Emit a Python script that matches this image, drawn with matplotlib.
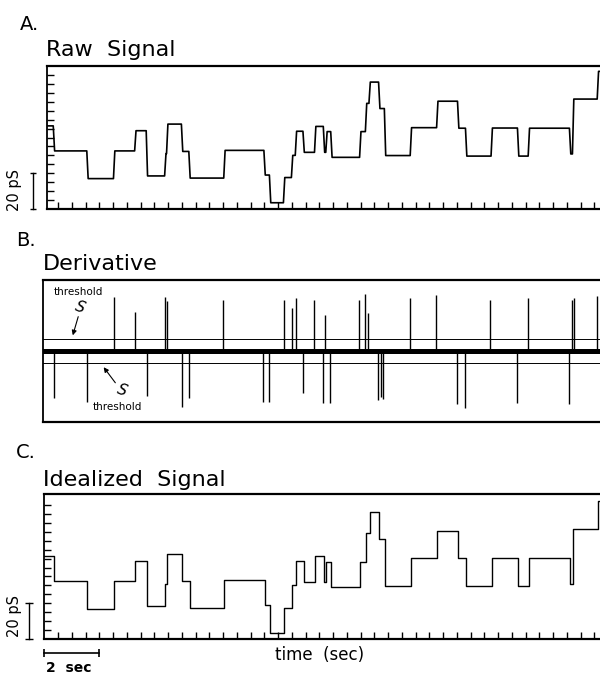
"""
Single-channel recording: raw trace, its derivative and the idealized steps.
"""

import numpy as np
import matplotlib
matplotlib.use("Agg")
from matplotlib import pyplot as plt
from matplotlib import transforms as mtransforms

# step levels of the channel record (pS) and the times (sec) they start
step_times = [0.0, 0.35, 1.57, 2.54, 3.31, 3.73, 4.40, 4.47, 5.01, 5.28, 6.55,
              8.01, 8.21, 8.72, 9.01, 9.15, 9.43, 9.85, 10.17, 10.26, 10.44,
              11.49, 11.70, 11.83, 12.18, 12.39, 13.33, 14.29, 15.05, 15.34,
              16.27, 17.23, 17.62, 19.12, 19.23, 20.13]
step_levels = [46.5, 32.5, 17.0, 32.5, 43.8, 18.5, 31.0, 47.5, 32.2, 17.3, 32.8,
               19.0, 3.5, 17.6, 30.0, 43.5, 31.7, 46.2, 31.7, 43.3, 28.9,
               43.3, 59.1, 71.0, 56.2, 29.9, 45.5, 60.3, 45.2, 29.6,
               45.3, 29.6, 45.2, 30.8, 61.5, 77.0]

# derivative spikes (sec, arbitrary units)
up_spike_times = [2.55, 3.31, 4.40, 4.45, 6.51, 8.72, 9.01, 9.16, 9.82, 10.22,
                  11.45, 11.65, 11.77, 13.29, 14.24, 16.22, 17.58, 19.20, 19.26, 20.10]
up_spike_heights = [54, 39, 54, 50, 51, 51, 43, 53, 51, 36,
                    51, 57, 38, 53, 56, 51, 53, 51, 53, 55]
down_spike_times = [0.35, 1.56, 3.72, 4.99, 5.27, 7.96, 8.16, 9.41, 10.13, 10.40,
                    12.13, 12.24, 12.33, 15.01, 15.29, 17.18, 19.07]
down_spike_heights = [-47, -51, -45, -56, -47, -51, -51, -42, -52, -52,
                      -49, -46, -48, -53, -57, -52, -53]
threshold = 12

W, H = 600, 674
PX_PER_SEC = 27.5
T0_PX = 44.3
RIGHT_PX = 606

plt.rcParams["font.family"] = ["DejaVu Sans"]
fig = plt.figure(figsize=(W / 100, H / 100), dpi=100)


def add_panel(left, top, bottom):
    ax = fig.add_axes([left / W, 1 - bottom / H, (RIGHT_PX - left) / W, (bottom - top) / H])
    ax.set_xlim((left - T0_PX) / PX_PER_SEC, (RIGHT_PX - T0_PX) / PX_PER_SEC)
    for side in ["top", "bottom"]:
        ax.spines[side].set_linewidth(1.6)
    ax.spines["left"].set_linewidth(1.3)
    ax.spines["right"].set_visible(False)
    return ax


def style_ticks(ax):
    ax.set_xticks(np.arange(0.5, 20.5, 0.5))
    ax.set_yticks(np.arange(5, 80, 5))
    ax.tick_params(direction="in", length=5, width=1, labelleft=False, labelbottom=False)


def label(x, y, s, size):
    fig.text(x / W, 1 - y / H, s, fontsize=size, va="baseline", ha="left")


def scale_bar_pS(ax, x_px, cap):
    trans = mtransforms.blended_transform_factory(fig.transFigure, ax.transData)
    ax.plot([x_px / W] * 2, [0, 20], color="k", lw=1, transform=trans, clip_on=False,
            marker="_", markersize=cap, markeredgewidth=1)


# A. raw signal
axA = add_panel(47, 66, 209)
axA.set_ylim(0, 80)
style_ticks(axA)
ramp = 0.025
raw_t, raw_y = [step_times[0]], [step_levels[0]]
for i in range(1, len(step_times)):
    raw_t += [step_times[i] - ramp, step_times[i] + ramp]
    raw_y += [step_levels[i - 1], step_levels[i]]
raw_t.append(21)
raw_y.append(step_levels[-1])
axA.plot(raw_t, raw_y, color="k", lw=1.2)
scale_bar_pS(axA, 33, 5)

# B. derivative
axB = add_panel(43.3, 280, 422)
axB.set_ylim(-71, 71)
axB.set_xticks([])
axB.set_yticks([])
axB.axhline(0, color="k", lw=3.6)
axB.axhline(threshold, color="k", lw=0.7)
axB.axhline(-threshold, color="k", lw=0.7)
axB.vlines(up_spike_times, 0, up_spike_heights, color="k", lw=1.0)
axB.vlines(down_spike_times, 0, down_spike_heights, color="k", lw=1.0)


def px_to_B(x, y):
    return (x - T0_PX) / PX_PER_SEC, 351 - y


axB.annotate("", xy=px_to_B(72, 338), xytext=px_to_B(79, 314),
             arrowprops=dict(arrowstyle="-|>", color="k", lw=0.8, mutation_scale=7))
axB.annotate("", xy=px_to_B(102, 365), xytext=px_to_B(117, 385),
             arrowprops=dict(arrowstyle="-|>", color="k", lw=0.8, mutation_scale=7))
for xs, ys in [(80, 307), (122, 390)]:
    axB.text(*px_to_B(xs, ys), "S", fontsize=11, style="italic", fontweight="light",
             rotation=-20, ha="center", va="center")
axB.text(*px_to_B(54, 292), "threshold", fontsize=7.5, va="center", ha="left")
axB.text(*px_to_B(93, 407), "threshold", fontsize=7.5, va="center", ha="left")

# C. idealized signal
axC = add_panel(44.3, 494.3, 639)
axC.set_ylim(0, 81)
style_ticks(axC)
axC.step(step_times + [21], step_levels + [step_levels[-1]], where="post", color="k", lw=1)
scale_bar_pS(axC, 29.3, 6)
trans = mtransforms.blended_transform_factory(axC.transData, fig.transFigure)
axC.plot([0, 2], [1 - 652.7 / H] * 2, color="k", lw=1.2, transform=trans, clip_on=False,
         marker="|", markersize=6, markeredgewidth=1.2)

# text
label(20, 29.5, "A.", 14)
label(46, 55.5, "Raw  Signal", 16)
label(16, 246, "B.", 14)
label(43, 270, "Derivative", 16)
label(16, 458, "C.", 14)
label(43, 486.5, "Idealized  Signal", 16)
fig.text(15 / W, 1 - 190 / H, "20 pS", fontsize=10.5, rotation=90, ha="center", va="center")
fig.text(15 / W, 1 - 616 / H, "20 pS", fontsize=10.5, rotation=90, ha="center", va="center")
fig.text(46 / W, 1 - 668 / H, "2  sec", fontsize=10, fontweight="bold", ha="left", va="center")
fig.text(275 / W, 1 - 655 / H, "time  (sec)", fontsize=12, ha="left", va="center")

fig.savefig("out.png", dpi=100)
